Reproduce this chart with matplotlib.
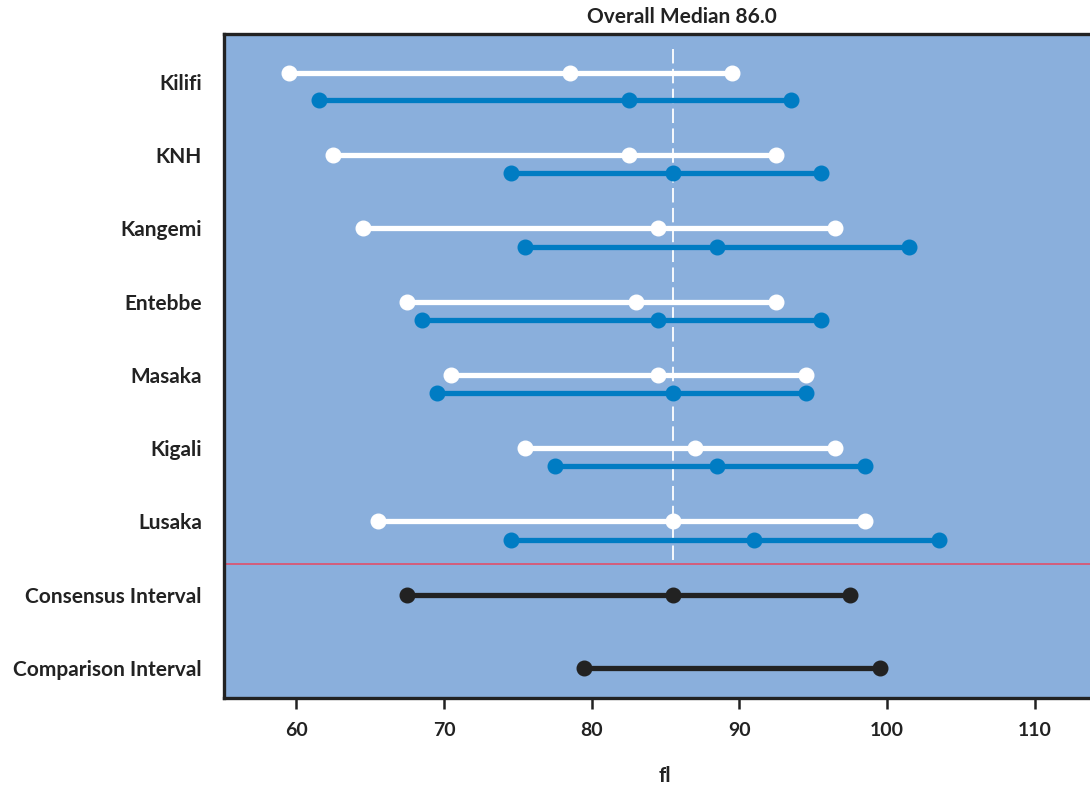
import numpy as np
import matplotlib
matplotlib.use("Agg")
import matplotlib.pyplot as plt

# -------------
# DATA (fl)
# -------------
sites = ["Kilifi", "KNH", "Kangemi", "Entebbe", "Masaka", "Kigali", "Lusaka"]
# [low, median, high] per site, two panels each
white_vals = [
    [60, 79, 90],
    [63, 83, 93],
    [65, 85, 97],
    [68, 83.5, 93],
    [71, 85, 95],
    [76, 87.5, 97],
    [66, 86, 99],
]
blue_vals = [
    [62, 83, 94],
    [75, 86, 96],
    [76, 89, 102],
    [69, 85, 96],
    [70, 86, 95],
    [78, 89, 99],
    [75, 91.5, 104],
]
consensus = [68, 86, 98]
comparison = [80, 100]
overall_median = 86.0
tick_vals = [60, 70, 80, 90, 100, 110]

# -------------
# STYLE
# -------------
BG = "#8aafdc"
BLUE = "#007cc3"
WHITE = "#ffffff"
BLACK = "#222222"
RED = "#e0506a"
plt.rcParams["font.family"] = ["Lato", "DejaVu Sans"]
plt.rcParams["font.weight"] = "bold"

fig = plt.figure(figsize=(10.9, 7.93), dpi=100)
left = 224 / 1090
ax = fig.add_axes([left, 1 - 698 / 793, 1 - left, (698 - 34) / 793])
ax.set_facecolor(BG)

# row offsets of the two lines relative to the site label
white_off = [-0.12, 0, 0, 0, 0, 0, 0]
BLUE_OFF = 0.25
lw = 3.8
ms = 10.5


def draw_interval(vals, y, color):
    ax.plot(vals, [y] * len(vals), color=color, lw=lw, marker="o", ms=ms,
            solid_capstyle="butt", zorder=3)


for i, (w, b) in enumerate(zip(white_vals, blue_vals)):
    draw_interval(w, i + white_off[i], WHITE)
    draw_interval(b, i + BLUE_OFF, BLUE)

n = len(sites)
draw_interval(consensus, n, BLACK)
draw_interval(comparison, n + 1, BLACK)

# overall median and separator
ax.plot([overall_median, overall_median], [-0.45, n - 0.47], color=WHITE, lw=1.3,
        ls=(0, (8, 3)), zorder=2)
ax.axhline(n - 0.42, color=RED, lw=1.2, zorder=2)

# axis values sit at bin centres, labels at bin start
ax.set_xticks([t + 0.5 for t in tick_vals])
ax.set_xticklabels([str(t) for t in tick_vals])
ax.set_xlim(55.6, 114.24)
ax.set_ylim(8.41, -0.65)

labels = sites + ["Consensus Interval", "Comparison Interval"]
ax.set_yticks(range(len(labels)))
ax.set_yticklabels(labels)
ax.tick_params(axis="y", length=0, pad=16, labelsize=15)
ax.tick_params(axis="x", length=8, width=1.8, color=BLACK, pad=9, labelsize=14,
               direction="out")
for lab in ax.get_yticklabels() + ax.get_xticklabels():
    lab.set_fontweight("bold")
    lab.set_color(BLACK)

for side in ["left", "bottom", "top"]:
    ax.spines[side].set_linewidth(2.4)
    ax.spines[side].set_color(BLACK)
ax.spines["right"].set_visible(False)

ax.set_title("Overall Median 86.0", fontsize=15, fontweight="bold", color=BLACK, pad=8,
             x=(682 - 224) / (1090 - 224))
ax.set_xlabel("fl", fontsize=15, fontweight="bold", color=BLACK, labelpad=20,
              x=(665 - 224) / (1090 - 224))

fig.savefig("out.png", dpi=100, facecolor="white")
